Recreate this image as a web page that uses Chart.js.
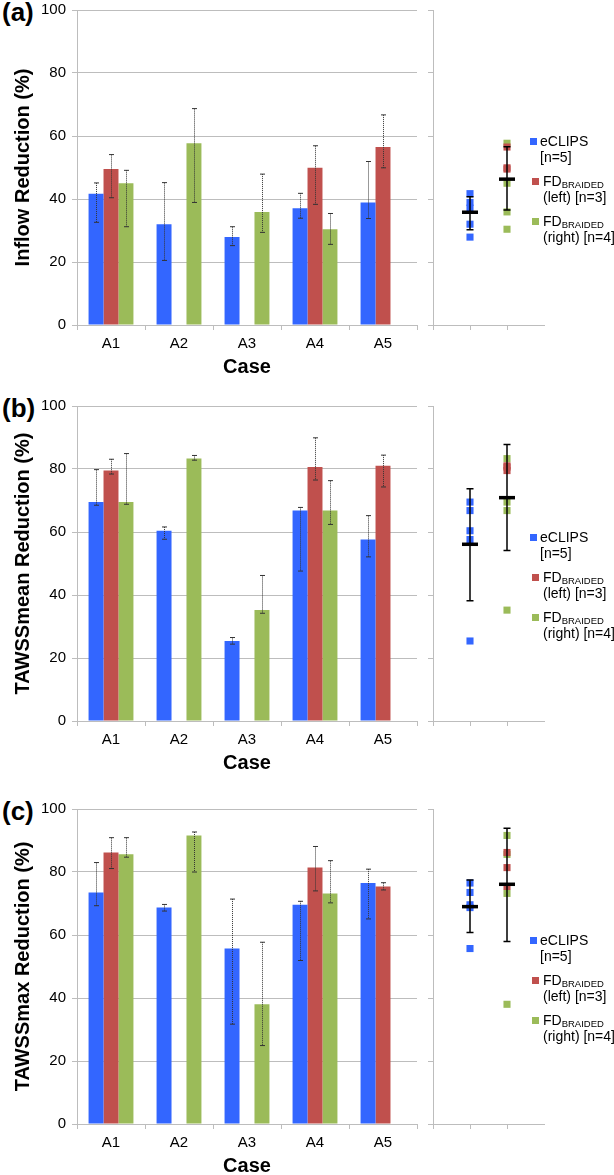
<!DOCTYPE html>
<html>
<head>
<meta charset="utf-8">
<script src="https://cdn.jsdelivr.net/npm/chart.js@4.4.1/dist/chart.umd.min.js"></script>
<style>
  html, body { margin: 0; padding: 0; background: #fff; overflow: hidden; }
  body { width: 614px; height: 1175px; position: relative; font-family: 'Liberation Sans', Arial, sans-serif; }
  .panel { position: absolute; left: 0; width: 614px; height: 384px; }
  .panel canvas { position: absolute; top: 0; }
  .tag { position: absolute; left: 2px; font-size: 26px; font-weight: bold; line-height: 30px; }
  .legend { position: absolute; left: 530px; font-size: 14px; color: #000; }
  .legend .row { position: absolute; white-space: nowrap; line-height: 16px; }
  .legend .sw { position: absolute; width: 7px; height: 7px; }
  .legend sub { font-size: 9.5px; vertical-align: -2px; }
</style>
</head>
<body>
<script>
// case labels
const cases = ['A1', 'A2', 'A3', 'A4', 'A5'];

// (a) inflow reduction
const inflowEclips = [41.7, 32.0, 27.9, 37.1, 38.9];
const inflowEclipsLo = [32.6, 20.5, 25.2, 33.9, 33.8];
const inflowEclipsHi = [45.1, 45.2, 31.2, 41.8, 51.9];
const inflowLeft = [49.5, null, null, 49.9, 56.5];
const inflowLeftLo = [40.4, null, null, 38.3, 49.9];
const inflowLeftHi = [54.1, null, null, 56.9, 66.7];
const inflowRight = [45.0, 57.7, 35.9, 30.4, null];
const inflowRightLo = [31.2, 38.9, 29.4, 25.6, null];
const inflowRightHi = [49.1, 68.7, 47.9, 35.4, null];
const inflowMean = [35.8, 46.3];
const inflowMeanLo = [30.2, 36.5];
const inflowMeanHi = [40.7, 56.6];

// (b) TAWSSmean reduction
const meanEclips = [69.5, 60.4, 25.4, 66.8, 57.6];
const meanEclipsLo = [68.5, 57.7, 24.4, 47.6, 52.1];
const meanEclipsHi = [79.8, 61.6, 26.5, 67.8, 65.2];
const meanLeft = [79.5, null, null, 80.6, 81.0];
const meanLeftLo = [78.4, null, null, 76.5, 74.3];
const meanLeftHi = [83.1, null, null, 89.9, 84.4];
const meanRight = [69.5, 83.3, 35.2, 66.8, null];
const meanRightLo = [68.8, 82.8, 34.2, 62.4, null];
const meanRightHi = [84.9, 84.3, 46.2, 76.3, null];
const meanMean = [56.1, 70.9];
const meanMeanLo = [38.2, 54.1];
const meanMeanHi = [73.7, 87.8];

// (c) TAWSSmax reduction
const maxEclips = [73.5, 68.7, 55.7, 69.6, 76.5];
const maxEclipsLo = [69.3, 67.6, 31.7, 51.9, 65.1];
const maxEclipsHi = [83.0, 69.7, 71.4, 70.7, 80.9];
const maxLeft = [86.2, null, null, 81.4, 75.4];
const maxLeftLo = [81.1, null, null, 74.0, 74.3];
const maxLeftHi = [90.9, null, null, 88.1, 76.6];
const maxRight = [85.6, 91.6, 38.0, 73.2, null];
const maxRightLo = [84.7, 80.0, 24.9, 70.2, null];
const maxRightHi = [90.9, 92.7, 57.7, 83.6, null];
const maxMean = [69.0, 76.1];
const maxMeanLo = [60.8, 57.9];
const maxMeanHi = [77.5, 93.9];

const yTicks = [0, 20, 40, 60, 80, 100];
const groupX = [1, 2];

const BLUE = '#3366ff';
const RED = '#c0504d';
const GREEN = '#9bbb59';
const GRID = '#bdbdbd';
const PAD = 15; // space above the plot area inside each panel

Chart.defaults.font.family = "'Liberation Sans', Arial, sans-serif";
Chart.defaults.color = '#000';

const panels = [
  { tag: '(a)', top: 10, title: 'Inflow Reduction (%)',
    e: inflowEclips, eLo: inflowEclipsLo, eHi: inflowEclipsHi,
    l: inflowLeft, lLo: inflowLeftLo, lHi: inflowLeftHi,
    r: inflowRight, rLo: inflowRightLo, rHi: inflowRightHi,
    m: inflowMean, mLo: inflowMeanLo, mHi: inflowMeanHi },
  { tag: '(b)', top: 406, title: 'TAWSSmean Reduction (%)',
    e: meanEclips, eLo: meanEclipsLo, eHi: meanEclipsHi,
    l: meanLeft, lLo: meanLeftLo, lHi: meanLeftHi,
    r: meanRight, rLo: meanRightLo, rHi: meanRightHi,
    m: meanMean, mLo: meanMeanLo, mHi: meanMeanHi },
  { tag: '(c)', top: 809, title: 'TAWSSmax Reduction (%)',
    e: maxEclips, eLo: maxEclipsLo, eHi: maxEclipsHi,
    l: maxLeft, lLo: maxLeftLo, lHi: maxLeftHi,
    r: maxRight, rLo: maxRightLo, rHi: maxRightHi,
    m: maxMean, mLo: maxMeanLo, mHi: maxMeanHi }
];

// dotted error bars on the bars
const barErrors = {
  id: 'barErrors',
  afterDatasetsDraw(chart) {
    const ctx = chart.ctx;
    const y = chart.scales.y;
    chart.data.datasets.forEach((ds, i) => {
      const meta = chart.getDatasetMeta(i);
      meta.data.forEach((bar, j) => {
        if (ds.data[j] == null || ds.errLo[j] == null) return;
        const x = Math.round(bar.x) + 0.5;
        const y1 = y.getPixelForValue(ds.errHi[j]);
        const y2 = y.getPixelForValue(ds.errLo[j]);
        ctx.save();
        ctx.strokeStyle = '#333';
        ctx.lineWidth = 1;
        ctx.setLineDash([1, 1]);
        ctx.beginPath();
        ctx.moveTo(x, y1);
        ctx.lineTo(x, y2);
        ctx.stroke();
        ctx.setLineDash([]);
        ctx.beginPath();
        ctx.moveTo(x - 2.5, y1); ctx.lineTo(x + 2.5, y1);
        ctx.moveTo(x - 2.5, y2); ctx.lineTo(x + 2.5, y2);
        ctx.stroke();
        ctx.restore();
      });
    });
  }
};

// group mean and spread on the right-hand panel
const groupStats = {
  id: 'groupStats',
  afterDatasetsDraw(chart, args, opts) {
    const ctx = chart.ctx;
    const xs = chart.scales.x, ys = chart.scales.y;
    opts.mean.forEach((m, i) => {
      const x = Math.round(xs.getPixelForValue(groupX[i]));
      const yt = ys.getPixelForValue(opts.hi[i]);
      const yb = ys.getPixelForValue(opts.lo[i]);
      const ym = ys.getPixelForValue(m);
      ctx.save();
      ctx.strokeStyle = '#000';
      ctx.lineWidth = 1.5;
      ctx.beginPath();
      ctx.moveTo(x, yt); ctx.lineTo(x, yb);
      ctx.moveTo(x - 3.5, yt); ctx.lineTo(x + 3.5, yt);
      ctx.moveTo(x - 3.5, yb); ctx.lineTo(x + 3.5, yb);
      ctx.stroke();
      ctx.lineWidth = 3.5;
      ctx.beginPath();
      ctx.moveTo(x - 8, ym); ctx.lineTo(x + 8, ym);
      ctx.stroke();
      ctx.restore();
    });
  }
};

function pointsAt(x, values) {
  return values.filter(v => v != null).map(v => ({ x: x, y: v }));
}

function addLegend(div) {
  const leg = document.createElement('div');
  leg.className = 'legend';
  leg.style.top = PAD + 'px';
  leg.innerHTML = `
    <div class="sw" style="background:${BLUE};top:128px;left:0"></div>
    <div class="row" style="top:123px;left:10px">eCLIPS</div>
    <div class="row" style="top:139px;left:10px">[n=5]</div>
    <div class="sw" style="background:${RED};top:168px;left:2px"></div>
    <div class="row" style="top:163px;left:13px">FD<sub>BRAIDED</sub></div>
    <div class="row" style="top:179px;left:13px">(left) [n=3]</div>
    <div class="sw" style="background:${GREEN};top:208px;left:2px"></div>
    <div class="row" style="top:203px;left:13px">FD<sub>BRAIDED</sub></div>
    <div class="row" style="top:219px;left:13px">(right) [n=4]</div>`;
  div.appendChild(leg);
}

panels.forEach(p => {
  const div = document.createElement('div');
  div.className = 'panel';
  div.style.top = (p.top - PAD) + 'px';
  document.body.appendChild(div);

  const tag = document.createElement('div');
  tag.className = 'tag';
  tag.textContent = p.tag;
  tag.style.top = (PAD - 13) + 'px';
  div.appendChild(tag);

  const barCanvas = document.createElement('canvas');
  barCanvas.width = 430; barCanvas.height = PAD + 315 + 54;
  barCanvas.style.left = '0px';
  div.appendChild(barCanvas);

  const dotCanvas = document.createElement('canvas');
  dotCanvas.width = 129; dotCanvas.height = PAD + 315 + 54;
  dotCanvas.style.left = '420px';
  div.appendChild(dotCanvas);

  addLegend(div);

  new Chart(barCanvas.getContext('2d'), {
    type: 'bar',
    data: {
      labels: cases,
      datasets: [
        { data: p.e, errLo: p.eLo, errHi: p.eHi, backgroundColor: BLUE },
        { data: p.l, errLo: p.lLo, errHi: p.lHi, backgroundColor: RED },
        { data: p.r, errLo: p.rLo, errHi: p.rHi, backgroundColor: GREEN }
      ]
    },
    options: {
      responsive: false,
      animation: false,
      layout: { padding: { top: PAD, right: 13, left: 0, bottom: 0 } },
      datasets: { bar: { categoryPercentage: 0.66, barPercentage: 1 } },
      plugins: { legend: { display: false }, tooltip: { enabled: false } },
      scales: {
        x: {
          grid: { drawOnChartArea: false, tickLength: 5, color: GRID, offset: true },
          border: { color: GRID },
          ticks: { font: { size: 15 }, padding: 5 },
          title: { display: true, text: 'Case', font: { size: 20, weight: 'bold' }, padding: 0 },
          afterFit(s) { s.height = 54; }
        },
        y: {
          min: 0, max: 100,
          afterBuildTicks(s) { s.ticks = yTicks.map(v => ({ value: v })); },
          grid: { color: GRID, tickLength: 5 },
          border: { color: GRID },
          ticks: { font: { size: 15 }, padding: 6 },
          title: { display: true, text: p.title, font: { size: 20, weight: 'bold' }, padding: { top: 11, bottom: 0 } },
          afterFit(s) { s.width = 77; }
        }
      }
    },
    plugins: [barErrors]
  });

  new Chart(dotCanvas.getContext('2d'), {
    type: 'scatter',
    data: {
      datasets: [
        { data: pointsAt(groupX[0], p.e), backgroundColor: BLUE, borderWidth: 0 },
        { data: pointsAt(groupX[1], p.l), backgroundColor: RED, borderWidth: 0 },
        { data: pointsAt(groupX[1], p.r), backgroundColor: GREEN, borderWidth: 0 }
      ]
    },
    options: {
      responsive: false,
      animation: false,
      layout: { padding: { top: PAD, right: 0, left: 0, bottom: 0 } },
      elements: { point: { pointStyle: 'rect', radius: 5 } },
      plugins: {
        legend: { display: false }, tooltip: { enabled: false },
        groupStats: { mean: p.m, lo: p.mLo, hi: p.mHi }
      },
      scales: {
        x: {
          type: 'linear', min: 0, max: 3,
          afterBuildTicks(s) { s.ticks = [{ value: 0 }, { value: 1 }, { value: 2 }]; },
          ticks: { display: false },
          grid: { drawOnChartArea: false, tickLength: 5, color: GRID },
          border: { color: GRID },
          afterFit(s) { s.height = 54; }
        },
        y: {
          min: 0, max: 100,
          afterBuildTicks(s) { s.ticks = yTicks.map(v => ({ value: v })); },
          ticks: { display: false },
          grid: { drawOnChartArea: false, tickLength: 5, color: GRID },
          border: { color: GRID },
          afterFit(s) { s.width = 13; }
        }
      }
    },
    plugins: [groupStats]
  });
});
</script>
</body>
</html>
